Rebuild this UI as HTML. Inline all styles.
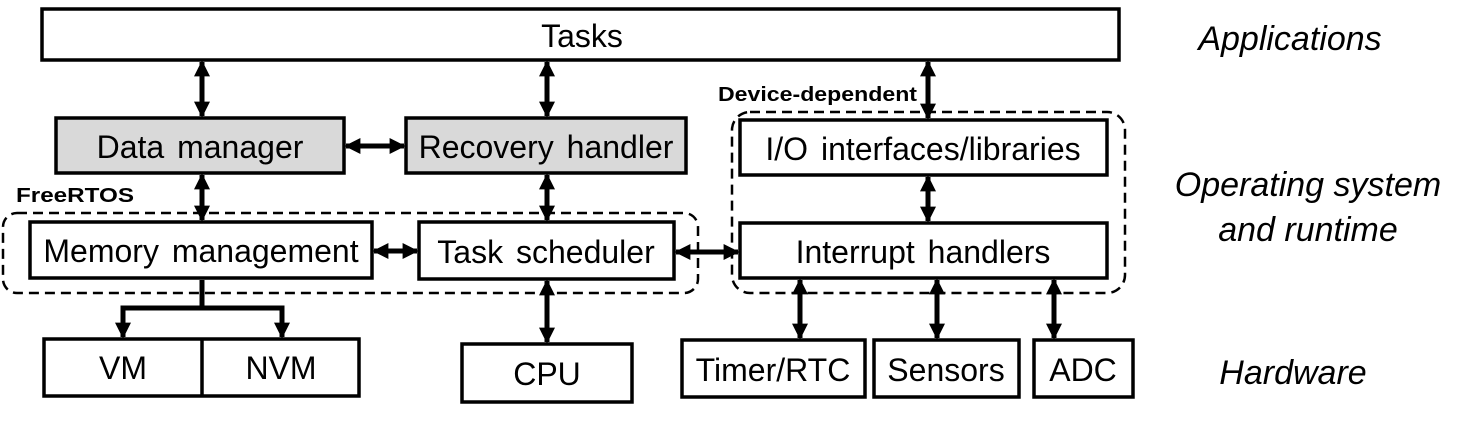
<!DOCTYPE html>
<html><head><style>
body{margin:0;background:#fff;}
svg text{font-family:"Liberation Sans",sans-serif;}
</style></head><body>
<svg width="1464" height="417" viewBox="0 0 1464 417" xmlns="http://www.w3.org/2000/svg">
<defs>
<marker id="a" viewBox="0 0 10 10" refX="9" refY="5" markerWidth="3.2" markerHeight="3.2" orient="auto-start-reverse"><path d="M0,0L10,5L0,10z" fill="#000"/></marker>
</defs>
<g fill="none" stroke="#000" stroke-width="3.5">
<rect x="42" y="9" width="1077" height="51" fill="#fff"/>
<rect x="56" y="118" width="288" height="55" fill="#d9d9d9"/>
<rect x="406" y="118" width="280" height="55" fill="#d9d9d9"/>
<rect x="740" y="120" width="367" height="55"/>
<rect x="30" y="222" width="342" height="56"/>
<rect x="419" y="222" width="255" height="57"/>
<rect x="740" y="223" width="367" height="55"/>
<rect x="44" y="339" width="315" height="57"/>
<line x1="202" y1="339" x2="202" y2="396"/>
<rect x="462" y="344" width="170" height="58"/>
<rect x="682" y="340" width="183" height="57"/>
<rect x="874" y="340" width="145" height="57"/>
<rect x="1034" y="340" width="99" height="57"/>
</g>
<g fill="none" stroke="#000" stroke-width="2.5" stroke-dasharray="10,6">
<rect x="3" y="213" width="695" height="80" rx="14"/>
<rect x="732" y="112" width="393" height="181" rx="18"/>
</g>
<g stroke="#000" stroke-width="5" marker-start="url(#a)" marker-end="url(#a)">
<line x1="202" y1="62" x2="202" y2="116"/>
<line x1="547" y1="62" x2="547" y2="116"/>
<line x1="928" y1="62" x2="928" y2="118"/>
<line x1="346" y1="146" x2="404" y2="146"/>
<line x1="202" y1="175" x2="202" y2="220"/>
<line x1="547" y1="175" x2="547" y2="220"/>
<line x1="374" y1="251" x2="417" y2="251"/>
<line x1="676" y1="252" x2="738" y2="252"/>
<line x1="928" y1="177" x2="928" y2="221"/>
<line x1="547" y1="281" x2="547" y2="342"/>
<line x1="800" y1="280" x2="800" y2="338"/>
<line x1="937" y1="280" x2="937" y2="338"/>
<line x1="1054" y1="280" x2="1054" y2="338"/>
</g>
<g fill="none" stroke="#000" stroke-width="5">
<line x1="202" y1="280" x2="202" y2="308"/>
<polyline points="123,337 123,308 282,308 282,337" marker-start="url(#a)" marker-end="url(#a)"/>
</g>
<g font-size="32" text-anchor="middle" fill="#000" word-spacing="4">
<text x="582" y="47">Tasks</text>
<text x="200" y="158">Data manager</text>
<text x="546" y="158">Recovery handler</text>
<text x="923" y="160">I/O interfaces/libraries</text>
<text x="201" y="262">Memory management</text>
<text x="546" y="263">Task scheduler</text>
<text x="923" y="263">Interrupt handlers</text>
<text x="123" y="379">VM</text>
<text x="281" y="379">NVM</text>
<text x="547" y="385">CPU</text>
<text x="773" y="381">Timer/RTC</text>
<text x="946" y="381">Sensors</text>
<text x="1083" y="381">ADC</text>
</g>
<g font-size="20" font-weight="bold" fill="#000">
<text x="16" y="202" textLength="118" lengthAdjust="spacingAndGlyphs">FreeRTOS</text>
<text x="718" y="101" textLength="199" lengthAdjust="spacingAndGlyphs">Device-dependent</text>
</g>
<g font-size="34" font-style="italic" text-anchor="middle" fill="#000">
<text x="1290" y="50">Applications</text>
<text x="1308" y="196">Operating system</text>
<text x="1308" y="241">and runtime</text>
<text x="1293" y="384">Hardware</text>
</g>
</svg>
</body></html>
